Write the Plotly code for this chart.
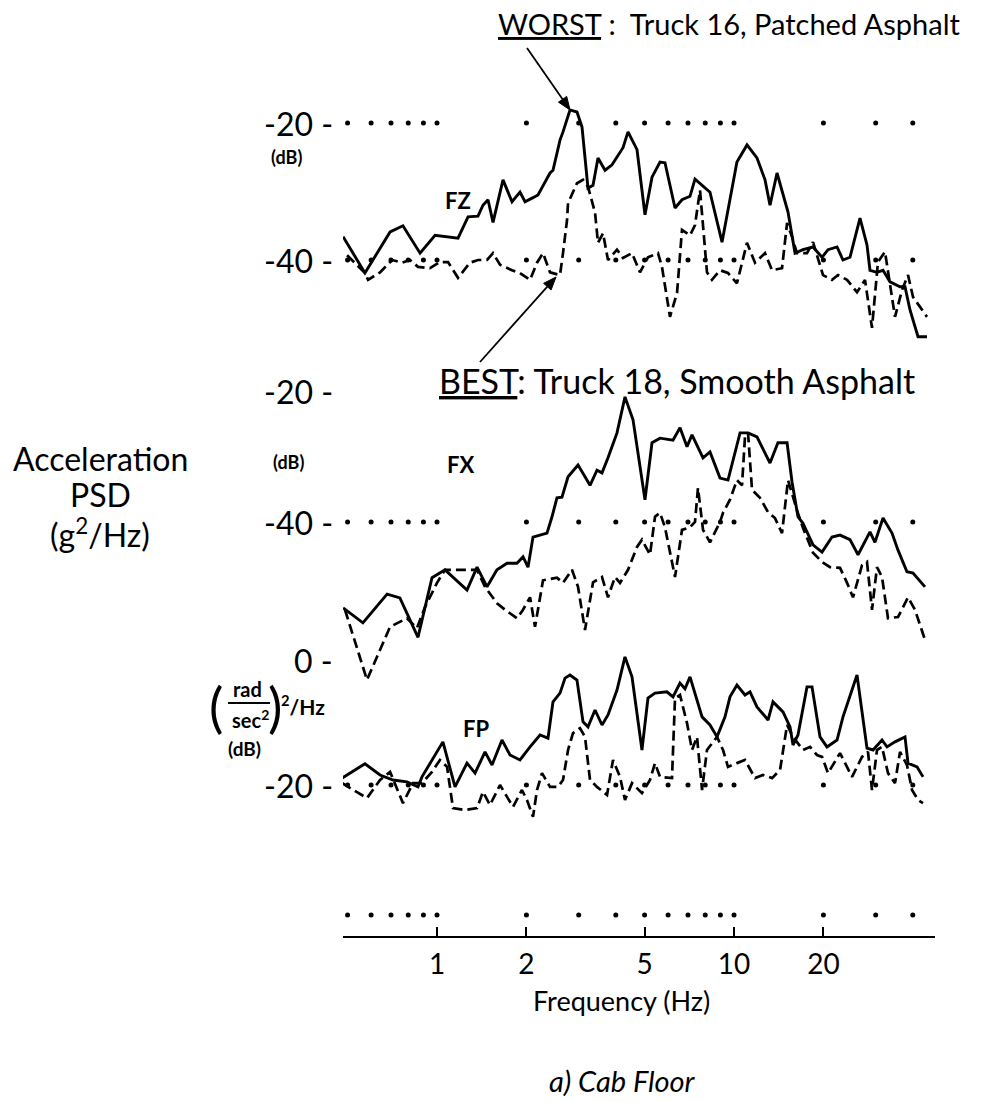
import math
import plotly.graph_objects as go

# ---------------------------------------------------------------- data
# frequency positions of the dotted reference rows (Hz)
GRID_FREQ = [0.5, 0.6, 0.7, 0.8, 0.9, 1, 2, 3, 4, 5, 6, 7, 8, 9, 10, 20, 30, 40, 50]
FREQ_TICKS = [1, 2, 5, 10, 20]
FREQ_TICK_TEXT = ["1", "2", "5", "10", "20"]

# FZ : vertical acceleration PSD (dB)
FZ_WORST_F = [0.483, 0.572, 0.695, 0.768, 0.877, 0.985, 1.177, 1.272, 1.374, 1.428,
              1.485, 1.544, 1.668, 1.789, 1.903, 1.979, 2.105, 2.188, 2.402, 2.458,
              2.595, 2.656, 2.804, 2.960, 3.078, 3.224, 3.352, 3.484, 3.680, 3.884,
              4.229, 4.397, 4.715, 5.015, 5.296, 5.634, 5.856, 6.330, 6.682, 7.110,
              7.391, 7.806, 8.302, 9.113, 10.23, 11.06, 11.95, 12.72, 13.22, 13.96,
              15.20, 16.05, 17.07, 18.45, 19.79, 20.73, 22.23, 23.28, 24.58, 26.56,
              28.04, 28.70, 30.30, 31.75, 33.52, 36.22, 37.65, 39.14, 41.65, 44.65]
FZ_WORST_DB = [-36.6, -41.9, -35.9, -35.0, -39.0, -36.4, -36.8, -33.7, -33.6, -32.0,
               -31.2, -34.5, -28.3, -31.5, -30.1, -31.5, -30.9, -30.5, -27.3, -26.9,
               -22.5, -21.3, -18.1, -18.4, -20.6, -29.5, -29.1, -25.1, -26.9, -26.1,
               -23.6, -21.3, -23.9, -33.4, -27.9, -25.7, -25.8, -32.4, -31.2, -30.7,
               -28.2, -29.1, -30.1, -37.4, -25.7, -23.2, -25.1, -28.3, -32.0, -27.3,
               -33.0, -39.0, -38.5, -38.1, -39.6, -38.5, -38.1, -40.0, -39.6, -33.9,
               -37.8, -41.5, -41.8, -41.5, -43.2, -43.9, -43.9, -47.3, -51.2, -51.2]

FZ_BEST_F = [0.498, 0.572, 0.586, 0.643, 0.706, 0.763, 0.811, 0.863, 0.947, 1.023,
             1.089, 1.177, 1.291, 1.374, 1.474, 1.544, 1.630, 1.789, 1.903, 2.057,
             2.171, 2.275, 2.402, 2.595, 2.656, 2.740, 2.762, 2.960, 3.102, 3.224,
             3.405, 3.484, 3.622, 3.765, 4.037, 4.229, 4.535, 4.825, 5.133, 5.547,
             5.721, 6.088, 6.43, 6.682, 7.110, 7.391, 7.683, 8.11, 8.43, 8.972,
             9.545, 10.23, 11.06, 11.77, 12.72, 13.43, 14.51, 15.09, 15.68, 16.29,
             17.61, 18.45, 19.94, 21.38, 22.39, 24.02, 25.95, 27.61, 29.15, 30.53,
             32.24, 33.52, 34.84, 36.79, 38.54, 40.06, 42.95, 44.65]
FZ_BEST_DB = [-39.3, -41.9, -42.9, -41.8, -40.0, -40.4, -40.0, -41.0, -41.2, -40.3,
              -40.3, -42.6, -40.4, -40.0, -40.0, -39.0, -40.7, -41.5, -41.9, -42.9,
              -40.4, -39.0, -41.8, -42.2, -39.0, -34.2, -31.7, -28.8, -28.3, -29.3,
              -33.1, -37.5, -36.1, -40.0, -38.5, -39.7, -39.0, -41.8, -39.6, -39.0,
              -41.0, -48.3, -44.8, -35.6, -36.4, -34.9, -29.8, -41.8, -42.9, -41.5,
              -41.9, -43.4, -37.5, -40.4, -39.0, -41.5, -41.2, -34.6, -36.6, -39.0,
              -39.0, -37.4, -42.2, -42.9, -42.2, -42.9, -44.7, -42.9, -49.9, -40.3,
              -38.8, -43.4, -48.3, -44.4, -42.2, -45.4, -47.3, -48.3]

# FX : longitudinal acceleration PSD (dB)
FX_WORST_F = [0.483, 0.563, 0.679, 0.750, 0.863, 0.962, 1.064, 1.262, 1.364, 1.474,
              1.592, 1.721, 1.859, 1.948, 2.025, 2.105, 2.346, 2.439, 2.535, 2.635,
              2.762, 2.984, 3.275, 3.457, 3.594, 3.765, 4.037, 4.295, 4.571, 5.015,
              5.296, 5.634, 6.231, 6.579, 6.947, 7.221, 7.865, 8.302, 8.972, 9.545,
              10.48, 11.15, 11.95, 13.22, 14.06, 15.09, 15.68, 16.42, 17.07, 18.45,
              19.79, 21.38, 22.75, 24.58, 26.16, 28.70, 29.83, 31.75, 34.04, 35.67,
              38.23, 40.06, 43.96]
FX_WORST_DB = [-53.1, -55.4, -51.0, -51.6, -57.6, -48.5, -47.3, -50.4, -46.9, -49.9,
               -47.3, -46.3, -46.3, -45.3, -46.9, -42.3, -41.7, -39.2, -36.3, -36.2,
               -33.1, -31.3, -34.4, -32.1, -32.5, -30.2, -26.4, -20.9, -24.4, -36.6,
               -27.9, -27.2, -27.5, -25.6, -28.5, -26.7, -30.2, -29.3, -33.3, -33.6,
               -26.4, -26.4, -27.0, -31.0, -27.9, -27.9, -33.9, -39.2, -40.2, -43.5,
               -44.6, -42.3, -42.0, -42.7, -45.0, -41.5, -43.1, -39.4, -41.7, -44.3,
               -47.6, -47.8, -49.9]

FX_BEST_F = [0.490, 0.581, 0.695, 0.792, 0.856, 0.911, 1.000, 1.064, 1.364, 1.451,
             1.592, 1.694, 1.859, 1.948, 2.057, 2.138, 2.275, 2.535, 2.656, 2.848,
             2.984, 3.150, 3.352, 3.594, 3.765, 3.975, 4.132, 4.397, 4.715, 4.899,
             5.214, 5.420, 5.634, 5.856, 6.330, 6.682, 7.110, 7.391, 7.564, 7.865,
             8.302, 8.972, 9.184, 9.694, 10.23, 10.64, 10.89, 11.15, 11.50, 12.23,
             13.02, 13.74, 14.51, 15.20, 16.29, 17.07, 18.45, 19.79, 21.05, 22.75,
             24.02, 25.16, 26.98, 28.04, 29.15, 30.30, 31.50, 33.00, 35.67, 38.54,
             40.68, 43.96]
FX_BEST_DB = [-53.4, -64.1, -56.0, -54.7, -56.2, -53.0, -49.3, -47.3, -47.3, -49.9,
              -52.4, -53.4, -54.7, -53.4, -51.5, -56.0, -48.9, -48.5, -49.3, -47.3,
              -49.9, -56.5, -49.2, -48.4, -51.5, -48.4, -49.3, -47.3, -43.8, -42.7,
              -45.0, -39.2, -38.6, -40.8, -48.4, -41.2, -40.8, -40.0, -34.8, -41.2,
              -43.1, -40.0, -38.6, -36.6, -33.6, -34.4, -27.0, -26.4, -35.1, -36.3,
              -38.5, -39.4, -41.7, -33.6, -38.2, -40.9, -44.7, -46.1, -46.9, -47.0,
              -49.3, -51.5, -46.6, -46.1, -53.4, -46.9, -48.4, -54.7, -54.5, -51.5,
              -53.4, -58.0]

# FP : pitch acceleration PSD (dB)
FP_WORST_F = [0.479, 0.572, 0.643, 0.711, 0.792, 0.863, 0.890, 0.947, 1.047, 1.150,
              1.262, 1.343, 1.451, 1.532, 1.655, 1.761, 1.903, 2.057, 2.223, 2.364,
              2.458, 2.595, 2.698, 2.804, 2.960, 3.102, 3.224, 3.405, 3.594, 3.765,
              4.037, 4.295, 4.535, 4.899, 5.133, 5.420, 5.947, 6.231, 6.579, 6.839,
              7.110, 7.806, 8.302, 8.766, 9.326, 9.694, 10.23, 10.89, 11.32, 11.95,
              13.02, 13.53, 14.62, 15.44, 15.80, 16.42, 17.61, 18.31, 19.48, 20.56,
              22.23, 23.28, 25.95, 28.04, 29.38, 31.50, 32.75, 34.84, 37.65, 38.54,
              41.33, 43.29]
FP_WORST_DB = [-18.9, -16.6, -18.4, -19.2, -19.5, -20.3, -18.7, -16.5, -13.1, -20.3,
               -16.5, -18.1, -14.7, -16.8, -12.8, -15.2, -16.0, -13.9, -12.0, -12.5,
               -6.7, -5.3, -2.9, -2.4, -3.2, -9.9, -10.7, -8.0, -10.4, -8.8,
               -4.8, 0.5, -2.7, -14.4, -6.1, -5.3, -5.1, -5.9, -3.7, -4.6,
               -2.7, -9.1, -10.4, -12.3, -9.1, -5.9, -4.0, -5.6, -5.1, -7.5,
               -9.6, -6.7, -8.3, -10.7, -13.6, -12.0, -4.3, -4.3, -12.3, -13.9,
               -12.8, -9.1, -2.4, -14.1, -14.4, -12.8, -13.9, -13.1, -12.3, -16.5,
               -17.1, -18.7]

FP_BEST_F = [0.479, 0.581, 0.643, 0.695, 0.768, 0.830, 0.890, 0.962, 1.023, 1.081,
             1.132, 1.242, 1.364, 1.428, 1.508, 1.630, 1.721, 1.803, 1.932, 2.009,
             2.105, 2.171, 2.257, 2.402, 2.555, 2.656, 2.762, 2.870, 3.030, 3.150,
             3.275, 3.457, 3.737, 3.914, 4.132, 4.295, 4.535, 4.899, 5.214, 5.420,
             5.634, 6.183, 6.330, 6.579, 6.947, 7.221, 7.506, 7.806, 8.11, 8.766,
             9.184, 9.545, 10.23, 10.89, 11.77, 12.52, 13.43, 14.29, 15.09, 15.80,
             17.07, 18.03, 19.03, 19.79, 20.73, 22.75, 24.97, 26.98, 28.26, 29.15,
             30.30, 31.50, 33.00, 34.84, 36.22, 38.23, 39.76, 41.65, 43.29]
FP_BEST_DB = [-19.7, -22.1, -19.2, -17.9, -22.9, -19.7, -19.7, -17.9, -16.0, -17.1,
              -23.7, -24.0, -23.7, -21.1, -23.2, -20.0, -21.9, -23.5, -20.8, -22.4,
              -25.1, -20.8, -18.1, -20.3, -20.3, -19.2, -14.4, -11.7, -10.9, -12.3,
              -19.2, -20.3, -21.6, -16.0, -18.7, -22.4, -19.7, -21.3, -19.2, -16.5,
              -18.7, -18.9, -6.1, -5.6, -10.1, -14.4, -12.3, -20.8, -14.4, -12.3,
              -14.4, -17.1, -16.5, -16.0, -18.9, -18.4, -18.9, -17.6, -10.4, -12.3,
              -14.4, -13.9, -15.2, -15.5, -18.1, -14.9, -18.7, -15.5, -14.7, -20.8,
              -14.4, -13.9, -18.1, -19.7, -14.7, -16.8, -20.8, -22.4, -22.9]

# ---------------------------------------------------------------- layout helpers
W, H = 983, 1102
INK = "black"
FONT = "Lato, 'Open Sans', sans-serif"

X_LEFT, X_RIGHT = 343, 935          # pixel extent of the frequency axis
X_ONE, DECADE = 437, 297            # pixel of 1 Hz, pixels per decade
AXIS_Y = 937                        # pixel row of the frequency axis line


def px(x):
    return x / W


def py(y):
    return 1 - y / H


def band_axis(top, bottom, p_a, v_a, p_b, v_b):
    """Invisible y axis whose dB scale puts v_a at pixel row p_a and v_b at p_b."""
    per_px = (v_a - v_b) / (p_b - p_a)
    return dict(domain=[py(bottom), py(top)],
                range=[v_a - (bottom - p_a) * per_px, v_a + (p_a - top) * per_px],
                visible=False, anchor="x", fixedrange=True)


fig = go.Figure()

solid = dict(color=INK, width=2.9)
dashed = dict(color=INK, width=2.7, dash="10px,5px")

panels = [
    ("y", FZ_WORST_F, FZ_WORST_DB, FZ_BEST_F, FZ_BEST_DB),
    ("y2", FX_WORST_F, FX_WORST_DB, FX_BEST_F, FX_BEST_DB),
    ("y3", FP_WORST_F, FP_WORST_DB, FP_BEST_F, FP_BEST_DB),
]
for yid, fw, dw, fb, db in panels:
    fig.add_trace(go.Scatter(x=fb, y=db, yaxis=yid, mode="lines", line=dashed,
                             hoverinfo="skip", cliponaxis=False))
    fig.add_trace(go.Scatter(x=fw, y=dw, yaxis=yid, mode="lines", line=solid,
                             hoverinfo="skip", cliponaxis=False))

# dotted reference rows
dot_rows = [("y", -20), ("y", -40), ("y2", -40), ("y3", -20), ("y4", 0.5)]
for yid, level in dot_rows:
    fig.add_trace(go.Scatter(x=GRID_FREQ, y=[level] * len(GRID_FREQ), yaxis=yid,
                             mode="markers", cliponaxis=False, hoverinfo="skip",
                             marker=dict(color=INK, size=5, symbol="circle")))


def note(text, x, y, size, anchor="center", **kw):
    fig.add_annotation(text=text, x=px(x), y=py(y), xref="paper", yref="paper",
                       xanchor=anchor, yanchor="middle", showarrow=False,
                       font=dict(family=FONT, size=size, color=INK), **kw)


def level_label(text, yid, value):
    fig.add_annotation(text=text, x=px(335), y=value, xref="paper", yref=yid,
                       xanchor="right", yanchor="middle", showarrow=False,
                       font=dict(family=FONT, size=32, color=INK))


def pointer(tail, tip, head_len=13, head_half=5):
    """Straight pointer line with a filled arrowhead, in pixel coordinates."""
    dx, dy = tip[0] - tail[0], tip[1] - tail[1]
    length = math.hypot(dx, dy)
    ux, uy = dx / length, dy / length
    bx, by = tip[0] - head_len * ux, tip[1] - head_len * uy
    nx, ny = -uy * head_half, ux * head_half
    fig.add_shape(type="line", xref="paper", yref="paper",
                  x0=px(tail[0]), y0=py(tail[1]), x1=px(bx), y1=py(by),
                  line=dict(color=INK, width=1.8))
    path = "M {:.4f},{:.4f} L {:.4f},{:.4f} L {:.4f},{:.4f} Z".format(
        px(tip[0]), py(tip[1]), px(bx + nx), py(by + ny), px(bx - nx), py(by - ny))
    fig.add_shape(type="path", xref="paper", yref="paper", path=path,
                  fillcolor=INK, line=dict(color=INK, width=1))


level_label("-20 -", "y", -20)
level_label("-40 -", "y", -40)
level_label("-20 -", "y2", -20)
level_label("-40 -", "y2", -40)
level_label("0 -", "y3", 0)
level_label("-20 -", "y3", -20)

# channel names and units
note("<b>FZ</b>", 458, 200, 22)
note("<b>FX</b>", 460, 464, 22)
note("<b>FP</b>", 476, 728, 22)
note("<b>(dB)</b>", 286, 157, 18)
note("<b>(dB)</b>", 288, 462, 18)

note("Acceleration", 100, 458, 32)
note("PSD", 100, 494, 32)
note("(g<sup>2</sup>/Hz)", 100, 533, 32)

note("(", 216, 706, 54)
note(")", 275, 706, 54)
note("<b>rad</b>", 248, 689, 20)
note("<b>sec<sup>2</sup></b>", 250, 719, 20)
note("<b><sup>2</sup>/Hz</b>", 303, 705, 21)
note("<b>(dB)</b>", 244, 748, 19)
fig.add_shape(type="line", xref="paper", yref="paper",
              x0=px(228), x1=px(270), y0=py(703), y1=py(703),
              line=dict(color=INK, width=2))

# case descriptions with pointers
note('<span style="text-decoration:underline">WORST</span> :  Truck 16, Patched Asphalt',
     496, 23, 29, anchor="left")
note('<span style="text-decoration:underline">BEST</span>: Truck 18, Smooth Asphalt',
     437, 381, 34, anchor="left")
pointer((527, 48), (570, 110))
pointer((480, 362), (556, 277))

note("Frequency (Hz)", 621, 1000, 27)
note("<i>a) Cab Floor</i>", 622, 1080, 29)

fig.update_layout(
    width=W, height=H,
    margin=dict(l=0, r=0, t=0, b=0),
    paper_bgcolor="white", plot_bgcolor="rgba(0,0,0,0)",
    showlegend=False,
    xaxis=dict(type="log",
               domain=[px(X_LEFT), px(X_RIGHT)],
               range=[(X_LEFT - X_ONE) / DECADE, (X_RIGHT - X_ONE) / DECADE],
               anchor="free", position=py(AXIS_Y),
               showline=True, linecolor=INK, linewidth=2.2,
               ticks="inside", ticklen=9, tickwidth=2, tickcolor=INK,
               tickvals=FREQ_TICKS, ticktext=FREQ_TICK_TEXT,
               tickfont=dict(family=FONT, size=28, color=INK),
               ticklabelstandoff=2,
               showgrid=False, zeroline=False, fixedrange=True),
    yaxis=band_axis(30, 360, 123, -20, 260, -40),
    yaxis2=band_axis(365, 705, 391, -20, 522, -40),
    yaxis3=band_axis(630, 880, 660, 0, 785, -20),
    yaxis4=dict(domain=[py(930), py(900)], range=[0, 1], visible=False,
                anchor="x", fixedrange=True),
)

fig.write_html("out.html")
